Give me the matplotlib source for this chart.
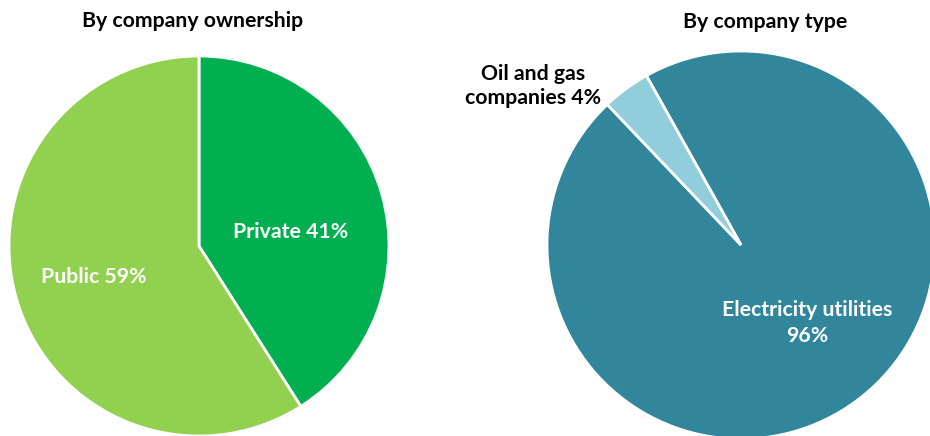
import matplotlib
matplotlib.use("Agg")
import matplotlib.pyplot as plt

# Data
own_labels = ["Private", "Public"]
own_values = [41, 59]
own_colors = ["#00B050", "#92D050"]

type_labels = ["Electricity utilities", "Oil and gas companies"]
type_values = [96, 4]
type_colors = ["#31869B", "#92CDDC"]

titles = ["By company ownership", "By company type"]

plt.rcParams['font.family'] = ['Lato', 'DejaVu Sans']

W, H = 930, 436
fig = plt.figure(figsize=(W / 100, H / 100), dpi=100)
ax = fig.add_axes([0, 0, 1, 1])

wp = dict(edgecolor='white', linewidth=2)

# Left pie
ax.pie(own_values, colors=own_colors, startangle=90, counterclock=False,
       center=(199, H - 246), radius=190, wedgeprops=wp, frame=True)
# Right pie
ax.pie(type_values, colors=type_colors, startangle=119.2, counterclock=False,
       center=(741, H - 245), radius=194, wedgeprops=wp, frame=True)
ax.set_xlim(0, W)
ax.set_ylim(0, H)
ax.set_aspect('equal')
ax.axis('off')

fs = 15.3
ax.text(291, H - 232, f"{own_labels[0]} {own_values[0]}%", color='white',
        fontsize=fs, fontweight='bold', ha='center', va='center')
ax.text(94, H - 277, f"{own_labels[1]} {own_values[1]}%", color='white',
        fontsize=fs, fontweight='bold', ha='center', va='center')
ax.text(807, H - 323, f"{type_labels[0]}\n{type_values[0]}%", color='white',
        fontsize=fs, fontweight='bold', ha='center', va='center', linespacing=1.38)
ax.text(533, H - 86, "Oil and gas\ncompanies " + f"{type_values[1]}%", color='black',
        fontsize=fs, fontweight='bold', ha='center', va='center', linespacing=1.25)

ax.text(193, H - 21, titles[0], color='black', fontsize=fs, fontweight='bold',
        ha='center', va='center')
ax.text(765, H - 22, titles[1], color='black', fontsize=fs, fontweight='bold',
        ha='center', va='center')

fig.savefig("out.png", dpi=100)
